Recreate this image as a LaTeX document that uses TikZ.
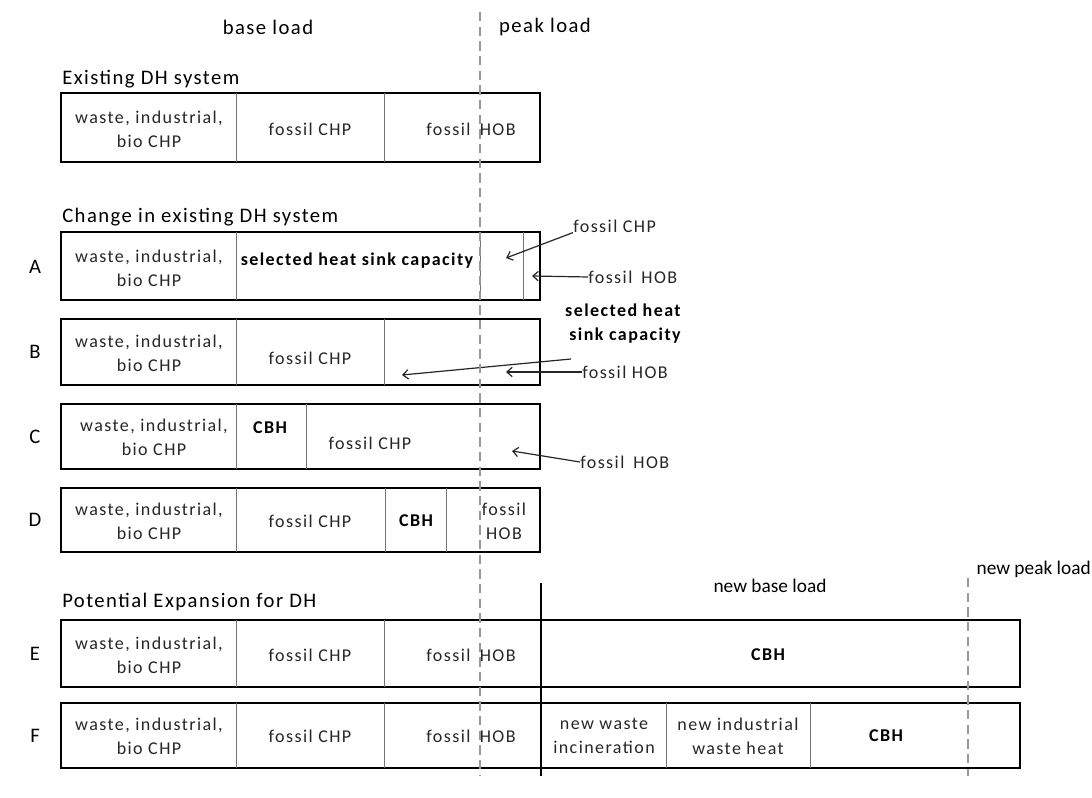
\documentclass[tikz,border=0pt]{standalone}
\usepackage{fontspec}
\setmainfont{Carlito}
\newfontfamily\thinfont[LetterSpace=8]{Carlito}
\newfontfamily\loadfont[LetterSpace=7]{Carlito}
\usetikzlibrary{arrows.meta}

\begin{document}
\begin{tikzpicture}
[x=0.75pt,y=-0.75pt,>={Straight Barb[length=4pt,width=7pt]},
 box/.style={draw,line width=2.2pt},
 sep/.style={draw=black!55,line width=0.7pt},
 peak/.style={draw=black!40,line width=0.9pt,dash pattern=on 7pt off 4pt},
 pointer/.style={->,line width=0.9pt,draw=black!85},
 txt/.style={font=\thinfont\fontsize{13.5}{18}\selectfont,text=black!85,align=center,inner sep=0pt},
 boldtxt/.style={font=\thinfont\bfseries\fontsize{13.5}{18}\selectfont,align=center,inner sep=0pt},
 head/.style={font=\loadfont\fontsize{15.5}{19}\selectfont,anchor=west,inner sep=0pt},
 row/.style={font=\fontsize{15.5}{17}\selectfont,inner sep=0pt},
 newload/.style={font=\fontsize{14.5}{17}\selectfont,inner sep=0pt},
 loadtxt/.style={font=\loadfont\fontsize{15.5}{18}\selectfont,inner sep=0pt},
 lbl/.style={font=\thinfont\fontsize{13.5}{18}\selectfont,text=black!85,anchor=west,inner sep=0pt},
]
\useasboundingbox (0,0) rectangle (1092,798);

%Column edges
\def\xl{61}
\def\xa{236}
\def\xb{384}
\def\xp{480}
\def\xr{540}
\def\xn{1020}

%Load headings
\node[loadtxt] (base) at (268,27) {base load};
\node[loadtxt] (peak) at (545,27) {peak load};
\node[newload] (nbase) at (770,586) {new base load};
\node[newload,anchor=east] (npeak) at (1091,569) {new peak load};

%Existing system
\node[head] (t0) at (62,79) {Existing DH system};
\draw[box] (\xl,93) rectangle (\xr,162);
\draw[sep] (\xa,93) -- (\xa,162);
\draw[sep] (\xb,93) -- (\xb,162);
\node[txt] (w0) at (149,129) {waste, industrial,\\bio CHP};
\node[txt] (c0) at (310,129) {fossil CHP};
\node[txt] (h0) at (471,129) {fossil\hspace{7pt}HOB};

%Change in existing system
\node[head] (t1) at (62,217) {Change in existing DH system};

%Row A
\node[row] (A) at (35,267) {A};
\draw[box] (\xl,232) rectangle (\xr,300);
\draw[sep] (\xa,232) -- (\xa,300);
\draw[sep] (\xp,232) -- (\xp,300);
\draw[sep] (523,232) -- (523,300);
\node[txt] (wA) at (149,268) {waste, industrial,\\bio CHP};
\node[boldtxt] (sA) at (357,261) {selected heat sink capacity};
\node[lbl] (lA1) at (573,226) {fossil CHP};
\node[lbl] (lA2) at (588,277) {fossil\enspace HOB};
\coordinate (pA1) at (506,258);
\coordinate (pA2) at (532,276);
\draw[pointer] (lA1.south west) -- (pA1);
\draw[pointer] (lA2.west) -- (pA2);

%Row B
\node[row] (B) at (35,352) {B};
\draw[box] (\xl,319) rectangle (\xr,385);
\draw[sep] (\xa,319) -- (\xa,385);
\draw[sep] (\xb,319) -- (\xb,385);
\node[txt] (wB) at (149,353) {waste, industrial,\\bio CHP};
\node[txt] (cB) at (310,358) {fossil CHP};
\node[boldtxt,align=right,anchor=east] (sB) at (681,324) {selected heat\\sink capacity};
\node[lbl] (lB) at (582,372) {fossil HOB};
\coordinate (qB) at (571,359);
\coordinate (pB1) at (402,375);
\coordinate (pB2) at (506,372);
\draw[pointer] (qB) -- (pB1);
\draw[pointer] (lB.west) -- (pB2);

%Row C
\node[row] (C) at (35,437) {C};
\draw[box] (\xl,404) rectangle (\xr,469);
\draw[sep] (\xa,404) -- (\xa,469);
\draw[sep] (306,404) -- (306,469);
\node[txt] (wC) at (154,437) {waste, industrial,\\bio CHP};
\node[boldtxt] (bC) at (270,428) {CBH};
\node[txt] (cC) at (370,443) {fossil CHP};
\node[lbl] (lC) at (580,462) {fossil\enspace HOB};
\coordinate (pC) at (512,451);
\draw[pointer] (lC.west) -- (pC);

%Row D
\node[row] (D) at (35,520) {D};
\draw[box] (\xl,488) rectangle (\xr,552);
\draw[sep] (\xa,488) -- (\xa,552);
\draw[sep] (385,488) -- (385,552);
\draw[sep] (446,488) -- (446,552);
\node[txt] (wD) at (149,521) {waste, industrial,\\bio CHP};
\node[txt] (cD) at (310,521) {fossil CHP};
\node[boldtxt] (bD) at (416,521) {CBH};
\node[txt] (hD) at (504,521) {fossil\\HOB};

%Potential expansion
\node[head] (t2) at (62,602) {Potential Expansion for DH};

%Row E
\node[row] (E) at (35,654) {E};
\draw[box] (\xl,620) rectangle (\xn,687);
\draw[sep] (\xa,620) -- (\xa,687);
\draw[sep] (\xb,620) -- (\xb,687);
\node[txt] (wE) at (149,655) {waste, industrial,\\bio CHP};
\node[txt] (cE) at (310,655) {fossil CHP};
\node[txt] (hE) at (471,655) {fossil\hspace{7pt}HOB};
\node[boldtxt] (bE) at (768,655) {CBH};

%Row F
\node[row] (F) at (35,736) {F};
\draw[box] (\xl,703) rectangle (\xn,768);
\draw[sep] (\xa,703) -- (\xa,768);
\draw[sep] (\xb,703) -- (\xb,768);
\draw[sep] (666,703) -- (666,768);
\draw[sep] (810,703) -- (810,768);
\node[txt] (wF) at (149,736) {waste, industrial,\\bio CHP};
\node[txt] (cF) at (310,736) {fossil CHP};
\node[txt] (hF) at (471,736) {fossil\hspace{7pt}HOB};
\node[txt] (nF1) at (604,736) {new waste\\incineration};
\node[txt] (nF2) at (738,736) {new industrial\\waste heat};
\node[boldtxt] (bF) at (886,736) {CBH};

%Load borders
\draw[peak] (\xp,12) -- (\xp,776);
\draw[peak] (968,578) -- (968,776);
\draw[line width=1.8pt] (541,583) -- (541,776);
\end{tikzpicture}
\end{document}
